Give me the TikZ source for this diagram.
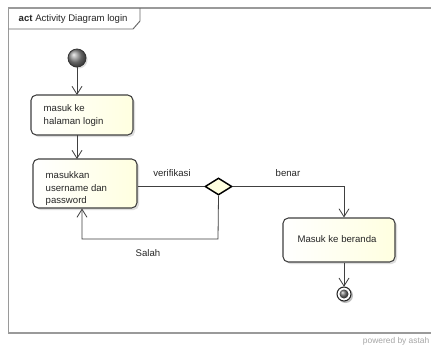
\documentclass[tikz,border=0pt]{standalone}
\usepackage{fontspec}
\setmainfont{Liberation Sans}
\usetikzlibrary{arrows.meta,shadows,shapes.geometric}
\definecolor{boxfill}{HTML}{FFFFE0}
\definecolor{boxline}{HTML}{404040}
\definecolor{framec}{HTML}{9A9A9A}
\tikzset{
  act/.style={draw=boxline, line width=0.8pt, rounded corners=4pt, left color=white, right color=boxfill,
     drop shadow={shadow xshift=1.5pt, shadow yshift=-1.5pt, fill=black!25}, inner sep=0pt},
  lbl/.style={font=\fontsize{7.2}{9.4}\selectfont, text=black!85},
  flow/.style={draw=black!75, line width=0.6pt, -{Straight Barb[length=6pt,width=7.5pt,line width=0.6pt]}},
  plainline/.style={draw=black!75, line width=0.6pt},
}
\begin{document}
\begin{tikzpicture}[x=0.75pt,y=-0.75pt]
\useasboundingbox (0,0) rectangle (431,347);
\fill[white] (0,0) rectangle (431,347);
% frame
\draw[framec, line width=0.8pt] (431,8) -- (8.5,8) -- (8.5,333) -- (431,333);
\draw[black!60, line width=0.7pt] (8.5,29) -- (133,29) -- (140,21) -- (140,8);
\node[lbl, anchor=west] (title) at (14,19) {\textbf{act} Activity Diagram login};
\node[anchor=east, font=\fontsize{6.3}{7}\selectfont, text=black!35] (pw) at (434,341) {powered by astah};
% initial node
\shade[ball color=black!45, drop shadow={shadow xshift=1.2pt, shadow yshift=-1.2pt, fill=black!25}] (77,58) circle (9);
\node[circle, minimum size=13.5pt, inner sep=0pt, draw=black!80, line width=0.6pt] (init) at (77,58) {};
% activities
\node[act, minimum width=76.5pt, minimum height=30pt] (a1) at (82,115) {};
\node[lbl, align=left, anchor=north west] (t1) at (39,100) {masuk ke\\halaman login};
\node[act, minimum width=78pt, minimum height=36.75pt] (a2) at (85,183.5) {};
\node[lbl, align=left, anchor=north west] (t2) at (41,167) {masukkan\\username dan\\password};
\node[diamond, draw=black, line width=1.1pt, fill=boxfill, minimum width=20.25pt, minimum height=12.75pt, inner sep=0pt, aspect=1.6] (dec) at (218.5,186.5) {};
\node[act, minimum width=84pt, minimum height=33pt] (a3) at (339,240) {};
\node[lbl] (t3) at (337,239) {Masuk ke beranda};
% final node
\fill[black!25] (345.5,295.5) circle (7.5);
\draw[black!85, line width=0.8pt, fill=white] (344,294) circle (7);
\shade[ball color=black!55] (344,294) circle (4.5);
\node[circle, minimum size=10.5pt, inner sep=0pt] (fin) at (344,294) {};
% flows
\draw[flow] (init.south) -- (77,95);
\draw[flow] (77,135) -- (77,159);
\coordinate (c1) at (218,239);
\coordinate (c2) at (82,239);
\coordinate (c3) at (344,186.5);
\draw[plainline] (a2.east |- dec.west) -- (dec.west);
\draw[flow] (dec.south) -- (c1) -- (c2) -- (c2 |- a2.south);
\draw[flow] (dec.east) -- (c3) -- (c3 |- a3.north);
\draw[flow] (a3.south -| fin) -- (fin.north);
% labels
\node[lbl] (lv) at (172,173) {verifikasi};
\node[lbl] (ls) at (148,253) {Salah};
\node[lbl] (lb) at (288,173) {benar};
\end{tikzpicture}
\end{document}
